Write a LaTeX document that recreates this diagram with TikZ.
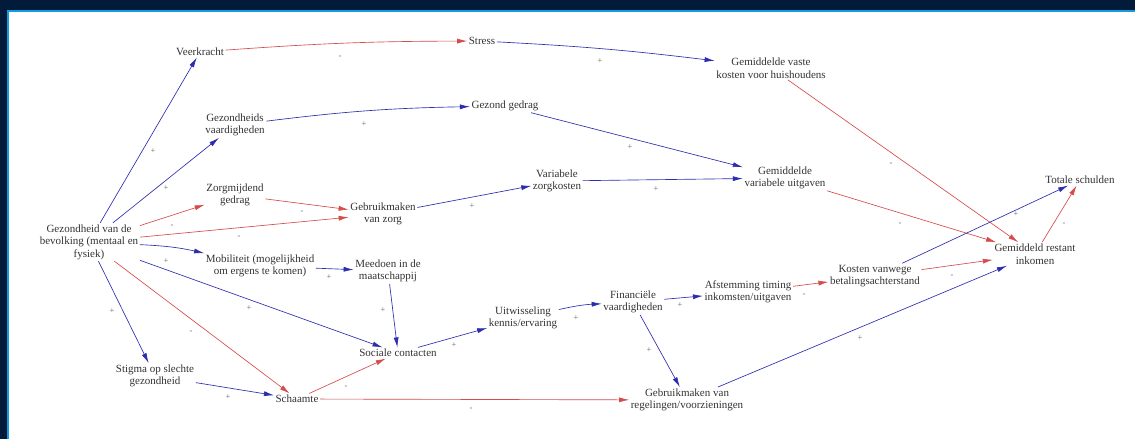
\documentclass[tikz,border=0pt]{standalone}
\usepackage{fontspec}
\setmainfont{Liberation Serif}
\usetikzlibrary{arrows.meta}
\definecolor{pb}{RGB}{45,45,175}
\definecolor{pr}{RGB}{215,75,75}
\definecolor{navy}{RGB}{2,27,59}
\definecolor{sky}{RGB}{20,155,220}
\tikzset{
  txt/.style={align=center, inner sep=1.5pt, font=\fontsize{11}{12.5}\selectfont, text=black!80},
  lab/.style={inner sep=0pt, font=\fontsize{8.5}{9}\selectfont, text=black!60},
  posl/.style={draw=pb, line width=0.65pt, -{Latex[length=10pt,width=5pt]}},
  negl/.style={draw=pr, line width=0.65pt, -{Latex[length=10pt,width=5pt]}},
}
\begin{document}
\begin{tikzpicture}[x=1pt,y=-1pt]
\useasboundingbox (0,0) rectangle (1135,439);
\fill[white] (0,0) rectangle (1135,439);
\fill[navy] (0,0) rectangle (1135,10);
\fill[navy] (0,0) rectangle (7,439);
\fill[sky] (7,10) rectangle (1135,12);
\fill[sky] (7,10) rectangle (9,439);

% nodes
\node[txt] (gez) at (89,242) {Gezondheid van de\\bevolking (mentaal en\\fysiek)};
\node[txt] (veer) at (200,52) {Veerkracht};
\node[txt] (stress) at (482,41) {Stress};
\node[txt] (vaste) at (771,68) {Gemiddelde vaste\\kosten voor huishoudens};
\node[txt] (gzv) at (235,125) {Gezondheids\\vaardigheden};
\node[txt] (gedrag) at (505,106) {Gezond gedrag};
\node[txt] (varuit) at (785,178) {Gemiddelde\\variabele uitgaven};
\node[txt] (tot) at (1080,180) {Totale schulden};
\node[txt] (zorgm) at (235,195) {Zorgmijdend\\gedrag};
\node[txt] (gmz) at (383,214) {Gebruikmaken\\van zorg};
\node[txt] (varzk) at (557,181) {Variabele\\zorgkosten};
\node[txt] (mob) at (260,266) {Mobiliteit (mogelijkheid\\om ergens te komen)};
\node[txt] (mee) at (388,271) {Meedoen in de\\maatschappij};
\node[txt] (rest) at (1035,254) {Gemiddeld restant\\inkomen};
\node[txt] (kosten) at (875,276) {Kosten vanwege\\betalingsachterstand};
\node[txt] (afst) at (748,292) {Afstemming timing\\inkomsten/uitgaven};
\node[txt] (fin) at (633,302) {Financiële\\vaardigheden};
\node[txt] (uitw) at (523,318) {Uitwisseling\\kennis/ervaring};
\node[txt] (soc) at (398,353) {Sociale contacten};
\node[txt] (stig) at (155,376) {Stigma op slechte\\gezondheid};
\node[txt] (scha) at (297,399) {Schaamte};
\node[txt] (regel) at (687,400) {Gebruikmaken van\\regelingen/voorzieningen};

% connectors
\draw[posl] (gez) -- (veer);
\draw[negl] (veer) to[bend left=2] (stress);
\draw[posl] (stress) to[bend left=2] (vaste);
\draw[posl] (gez) -- (gzv);
\draw[posl] (gzv) to[bend left=3] (gedrag);
\draw[posl] (gedrag) -- (varuit);
\draw[negl] (vaste) -- (rest);
\draw[negl] (varuit) -- (rest);
\draw[negl] (gez) -- (zorgm);
\draw[negl] (zorgm) -- (gmz);
\draw[negl] (gez) -- (gmz);
\draw[posl] (gmz) -- (varzk);
\draw[posl] (varzk) -- (varuit);
\draw[posl] (gez) to[bend left=5] (mob);
\draw[posl] (mob) -- (mee);
\draw[posl] (mee) -- (soc);
\draw[posl] (gez) -- (soc);
\draw[posl] (gez) -- (stig);
\draw[negl] (gez) -- (scha);
\draw[posl] (stig) -- (scha);
\draw[negl] (scha) -- (soc);
\draw[negl] (scha) -- (regel);
\draw[posl] (soc) -- (uitw);
\draw[posl] (uitw) to[bend left=5] (fin);
\draw[posl] (fin) -- (afst);
\draw[posl] (fin) -- (regel);
\draw[negl] (afst) -- (kosten);
\draw[negl] (kosten) -- (rest);
\draw[posl] (kosten) -- (tot);
\draw[negl] (rest) -- (tot);
\draw[posl] (regel) -- (rest);

% polarity labels
\node[lab] (l1) at (153,151) {+};
\node[lab] (l2) at (340,57) {-};
\node[lab] (l3) at (600,61) {+};
\node[lab] (l4) at (166,188) {+};
\node[lab] (l5) at (364,124) {+};
\node[lab] (l6) at (630,147) {+};
\node[lab] (l7) at (891,164) {-};
\node[lab] (l8) at (900,224) {-};
\node[lab] (l9) at (172,226) {-};
\node[lab] (l10) at (302,212) {-};
\node[lab] (l11) at (239,237) {-};
\node[lab] (l12) at (472,206) {+};
\node[lab] (l13) at (656,189) {+};
\node[lab] (l14) at (166,261) {+};
\node[lab] (l15) at (329,277) {+};
\node[lab] (l16) at (383,310) {+};
\node[lab] (l17) at (249,308) {+};
\node[lab] (l18) at (112,311) {+};
\node[lab] (l19) at (191,332) {-};
\node[lab] (l20) at (228,397) {+};
\node[lab] (l21) at (346,387) {-};
\node[lab] (l22) at (471,409) {-};
\node[lab] (l23) at (454,345) {+};
\node[lab] (l24) at (576,318) {+};
\node[lab] (l25) at (680,305) {+};
\node[lab] (l26) at (649,350) {+};
\node[lab] (l27) at (804,295) {-};
\node[lab] (l28) at (952,276) {-};
\node[lab] (l29) at (1016,214) {+};
\node[lab] (l30) at (1064,224) {-};
\node[lab] (l31) at (860,338) {+};
\end{tikzpicture}
\end{document}
